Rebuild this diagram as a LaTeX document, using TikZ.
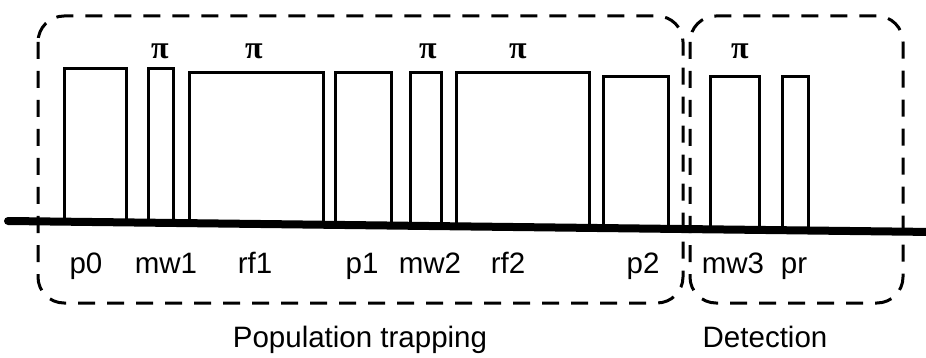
\documentclass[tikz,border=0pt]{standalone}
\usepackage{fontspec}
\setmainfont{Liberation Sans}
\newfontfamily\pifont{Liberation Serif}
\usetikzlibrary{positioning}

\begin{document}
\begin{tikzpicture}[
    x=1pt, y=-1pt,
    pulse/.style={line width=3pt, line join=miter},
    frame/.style={line width=3pt, dash pattern=on 17pt off 12pt, rounded corners=26pt},
    axis/.style={line width=8pt, line cap=round},
    lbl/.style={font=\fontsize{29.5}{32}\selectfont, inner sep=0pt, anchor=base},
    pilbl/.style={font=\pifont\bfseries\fontsize{32}{34}\selectfont, inner sep=0pt}
]
    \useasboundingbox (0,0) rectangle (926,358);

    % Frames
    \draw[frame] (38,16) rectangle (683,303);
    \draw[frame] (690,16) rectangle (903,303);

    % Pulses (left/right/top)
    \foreach \l/\r/\t in {64/126/69, 148/173/69, 189/323/73, 335/391/73, 410/441/73,
                          456/589/73, 603/668/77, 710/759/77, 782/808/77}{
        \pgfmathsetmacro{\bl}{221+0.012*(\l-8)}
        \pgfmathsetmacro{\br}{221+0.012*(\r-8)}
        \draw[pulse] (\l,\bl) -- (\l,\t) -- (\r,\t) -- (\r,\br);
    }

    % Time axis
    \coordinate (T0) at (8,221);
    \coordinate (T1) at (934,232);
    \draw[axis] (T0) -- (T1);

    % Pulse labels
    \node[lbl] (P0)  at (86,273)  {p0};
    \node[lbl] (MW1) at (166,273) {mw1};
    \node[lbl] (RF1) at (255,273) {rf1};
    \node[lbl] (P1)  at (362,273) {p1};
    \node[lbl] (MW2) at (430,273) {mw2};
    \node[lbl] (RF2) at (508,273) {rf2};
    \node[lbl] (P2)  at (643,273) {p2};
    \node[lbl] (MW3) at (733,273) {mw3};
    \node[lbl] (PR)  at (794,273) {pr};

    % Pi marks
    \node[pilbl] (PIa) at (160,51) {π};
    \node[pilbl] (PIb) at (254,51) {π};
    \node[pilbl] (PIc) at (428,51) {π};
    \node[pilbl] (PId) at (518,51) {π};
    \node[pilbl] (PIe) at (740,51) {π};

    % Stage names
    \node[lbl] (TRAP) at (360,347) {Population trapping};
    \node[lbl] (DET)  at (765,347) {Detection};

\end{tikzpicture}
\end{document}
